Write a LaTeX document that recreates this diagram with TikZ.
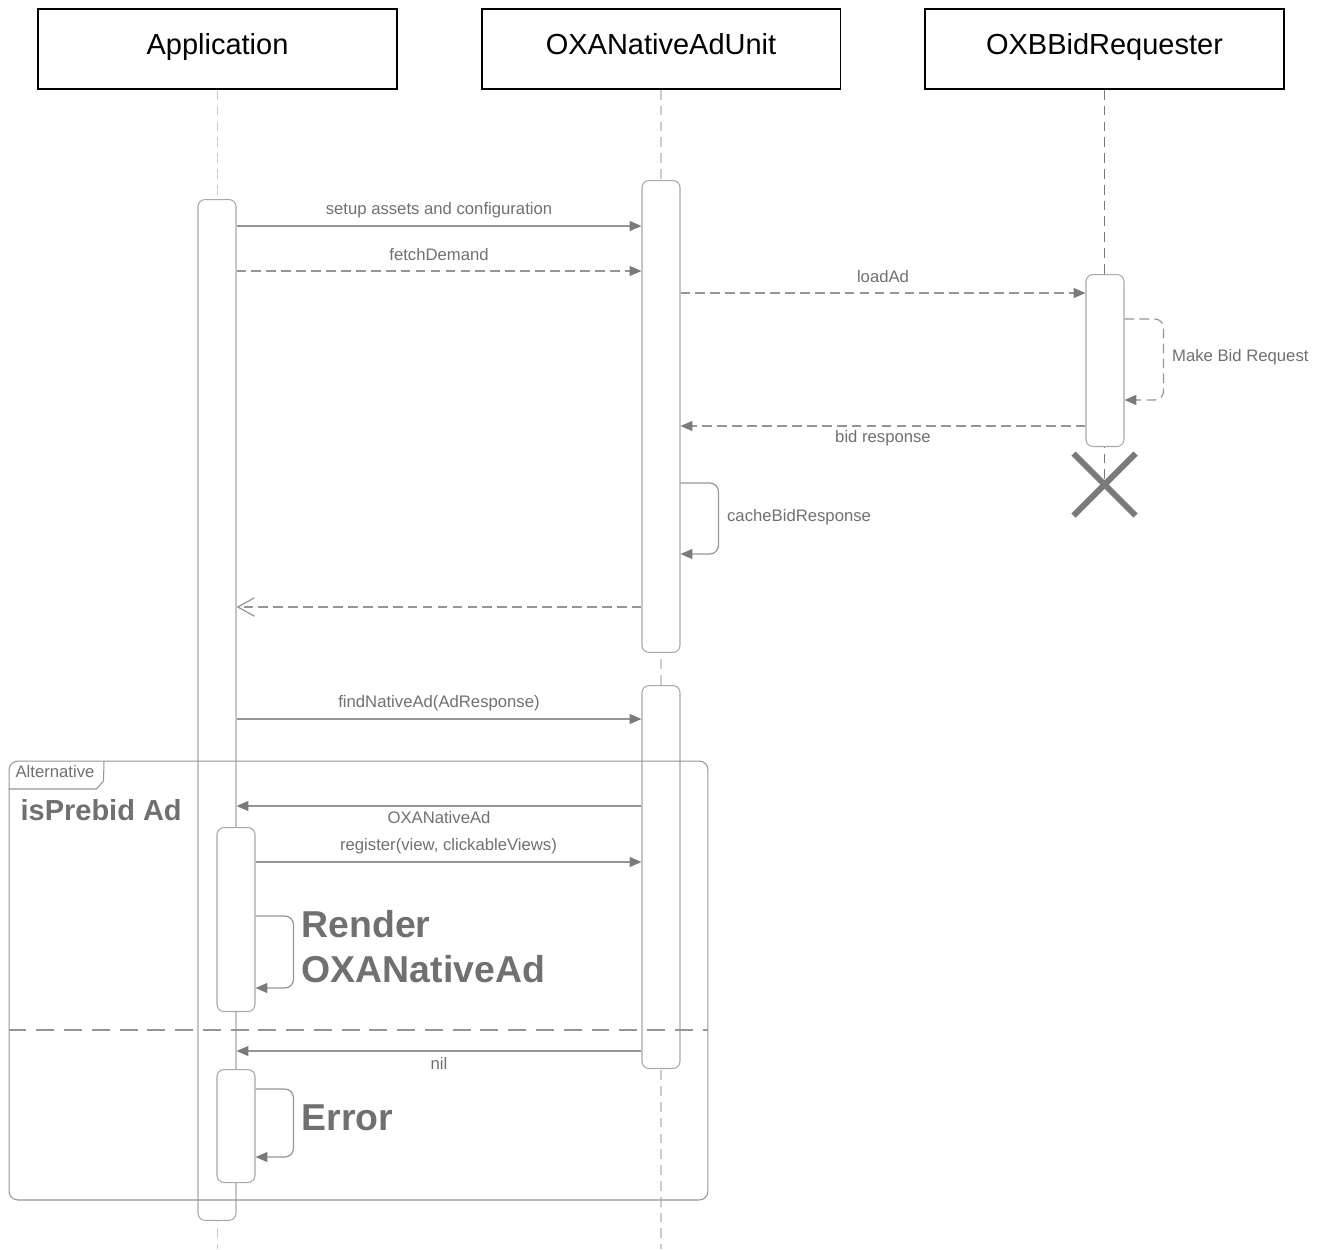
\documentclass[tikz,border=0pt]{standalone}
\usepackage{fontspec}
\setmainfont{Liberation Sans}
\usepackage{xcolor}
\usetikzlibrary{arrows.meta}
\definecolor{txtgray}{HTML}{707070}
\definecolor{linegray}{HTML}{959595}
\definecolor{headgray}{HTML}{7A7A7A}
\definecolor{boxgray}{HTML}{A8A8A8}
\definecolor{lifegray}{HTML}{CCCCCC}

\begin{document}
\begin{tikzpicture}[
      x = 0.02cm, y = -0.02cm, % one unit per pixel, y going down
      > = {Triangle[length=6.8pt, width=5.7pt, color=headgray]}, % arrow head style
      line width = 0.7pt, % line style
    ]

    \tikzstyle{head}=[
      draw = black,
      line width = 1.1pt,
      minimum width = 7.18cm,
      minimum height = 1.6cm,
      inner sep = 0pt,
      text height = 11pt,
      text depth = 4.2pt,
      font = \fontsize{16.5}{20}\selectfont
    ]
    \tikzstyle{life}=[draw = lifegray, dash pattern = on 5.5pt off 3.5pt]
    \tikzstyle{bar}=[
      draw = boxgray,
      fill = white,
      line width = 0.6pt,
      rounded corners = 4pt,
      minimum width = 0.76cm,
      inner sep = 0pt,
      anchor = north
    ]
    \tikzstyle{msg}=[draw = linegray]
    \tikzstyle{ret}=[msg, dash pattern = on 5.5pt off 3pt]
    \tikzstyle{lbl}=[text = txtgray, inner sep = 0pt, font = \fontsize{9.5}{11}\selectfont]
    \tikzstyle{biglbl}=[text = txtgray, inner sep = 0pt, anchor = west, align = left,
      font = \fontsize{21.3}{25.5}\selectfont\bfseries]
    \tikzstyle{frame}=[draw = linegray, line width = 0.6pt]

    \useasboundingbox (0,0) rectangle (1321,1249);

    % participants
    \node[head] (app) at (217.5, 49) {Application};
    \node[head] (unit) at (661, 49) {OXANativeAdUnit};
    \node[head] (req) at (1104.5, 49) {OXBBidRequester};
    \coordinate (xmark) at (1104.5, 484.5);

    % lifelines
    \draw[life] (app.south) -- (app.south |- 0,1249);
    \draw[life] (unit.south) -- (unit.south |- 0,1249);
    \draw[life, draw = headgray] (req.south) -- (xmark);

    % activations
    \node[bar, minimum height = 20.42cm] (app1) at (217, 199) {};
    \node[bar, minimum height = 3.68cm] (app2) at (236, 827) {};
    \node[bar, minimum height = 2.26cm] (app3) at (236, 1069) {};
    \node[bar, minimum height = 9.44cm] (unit1) at (661, 180) {};
    \node[bar, minimum height = 7.66cm] (unit2) at (661, 685) {};
    \node[bar, minimum height = 3.44cm] (req1) at (1105, 274) {};

    % messages
    \draw[msg, ->] (app1.east |- 0,226) -- node[lbl, yshift = 0.32cm] {setup assets and configuration} (unit1.west |- 0,226);
    \draw[ret, ->] (app1.east |- 0,271) -- node[lbl, yshift = 0.32cm] {fetchDemand} (unit1.west |- 0,271);
    \draw[ret, ->] (unit1.east |- 0,293) -- node[lbl, yshift = 0.32cm] {loadAd} (req1.west |- 0,293);
    \draw[ret, ->, rounded corners = 5pt] (req1.east |- 0,319) -- ++(39,0) -- ++(0,81)
      node[lbl, anchor = west, xshift = 0.16cm, yshift = 0.86cm] (mbr) {Make Bid Request} -- (req1.east |- 0,400);
    \draw[ret, ->] (req1.west |- 0,426) -- node[lbl, yshift = -0.25cm] {bid response} (unit1.east |- 0,426);
    \draw[msg, ->, rounded corners = 5pt] (unit1.east |- 0,483) -- ++(38,0) -- ++(0,71)
      node[lbl, anchor = west, xshift = 0.16cm, yshift = 0.74cm] (cache) {cacheBidResponse} -- (unit1.east |- 0,554);
    \draw[ret, -{Straight Barb[length = 9.5pt, width = 10.5pt, color = linegray]}]
      (unit1.west |- 0,607) -- (app1.east |- 0,607);
    \draw[msg, ->] (app1.east |- 0,719) -- node[lbl, yshift = 0.32cm] {findNativeAd(AdResponse)} (unit2.west |- 0,719);

    % alternative
    \draw[msg, ->] (unit2.west |- 0,806) -- node[lbl, yshift = -0.24cm] {OXANativeAd} (app1.east |- 0,806);
    \draw[msg, ->] (app2.east |- 0,862) -- node[lbl, yshift = 0.32cm] {register(view, clickableViews)} (unit2.west |- 0,862);
    \draw[msg, ->, rounded corners = 5pt] (app2.east |- 0,916) -- ++(38,0) -- ++(0,72) -- (app2.east |- 0,988);
    \node[biglbl] (render) at (301, 947) {Render\\OXANativeAd};
    \draw[msg, ->] (unit2.west |- 0,1051) -- node[lbl, yshift = -0.24cm] {nil} (app1.east |- 0,1051);
    \draw[msg, ->, rounded corners = 5pt] (app3.east |- 0,1089) -- ++(38,0) -- ++(0,68) -- (app3.east |- 0,1157);
    \node[biglbl] (error) at (301, 1118) {Error};

    % destroy
    \draw[headgray, line width = 3.4pt] (xmark) ++(-31,-31) -- ++(62,62) ++(0,-62) -- ++(-62,62);

    % frame
    \node[frame, rounded corners = 5pt, minimum width = 13.98cm, minimum height = 8.78cm, inner sep = 0pt] (alt) at (358.5, 980.5) {};
    \draw[frame] (alt.west |- 0,789) -- ++(88,0) -- ++(7,-8) -- (104,761);
    \draw[frame, dash pattern = on 10.2pt off 5.6pt] (alt.west |- 0,1030) -- (alt.east |- 0,1030);
    \node[lbl, anchor = west] (altname) at (15, 772) {Alternative};
    \node[lbl, anchor = west, font = \fontsize{16.5}{20}\selectfont\bfseries] (cond) at (20, 810) {isPrebid Ad};

  \end{tikzpicture}
\end{document}
